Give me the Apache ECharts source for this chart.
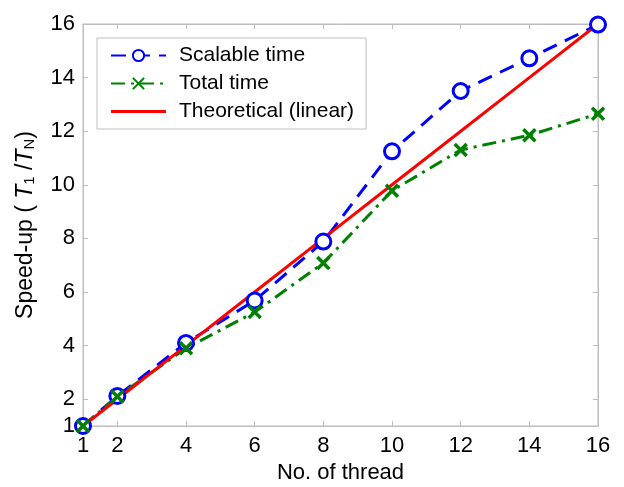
<!DOCTYPE html>
<html><head><meta charset="utf-8">
<script src="https://cdn.jsdelivr.net/npm/echarts@6/dist/echarts.min.js"></script>
<style>html,body{margin:0;padding:0;background:#fff}#c{width:624px;height:487px}</style>
</head><body><div id="c"></div>
<script>
var threads = [1, 2, 4, 6, 8, 10, 12, 14, 16];
var yTicks = [1, 2, 4, 6, 8, 10, 12, 14, 16];
var scalable = [1, 2.12, 4.1, 5.68, 7.88, 11.25, 13.5, 14.72, 15.98];
var total = [1, 2.1, 3.9, 5.25, 7.08, 9.78, 11.3, 11.85, 12.65];
var theoretical = [1, 2, 4, 6, 8, 10, 12, 14, 16];

function pairs(a){ return threads.map(function(t,i){return [t,a[i]];}); }
var xPath = 'path://M0,0L10,10M10,0L0,10';
var font = 'Liberation Sans, Arial, sans-serif';

var chart = echarts.init(document.getElementById('c'));
chart.setOption({
  animation:false,
  grid:{left:83,right:26,top:24,bottom:61,show:true,borderColor:'#bdbdbd',borderWidth:1,
        containLabel:false, outerBoundsMode:'none'},
  legend:{
    left:97, top:38, orient:'vertical', itemGap:7, itemWidth:55, itemHeight:14,
    padding:[7,12,7,13], borderColor:'#bdbdbd', borderWidth:1, backgroundColor:'#fff',
    textStyle:{fontFamily:font,fontSize:21,color:'#000',padding:[0,0,0,8]},
    data:[
      {name:'Scalable time'},
      {name:'Total time'},
      {name:'Theoretical (linear)', icon:'path://M0,0L60,0L60,3.2L0,3.2Z', itemStyle:{color:'#ff0000'}}
    ]
  },
  xAxis:[{
    type:'value', min:1, max:16, name:'No. of thread', nameLocation:'middle', nameGap:34,
    nameTextStyle:{fontFamily:font,fontSize:22,color:'#000'},
    axisLine:{show:true,lineStyle:{color:'#bdbdbd'}},
    axisTick:{show:true,inside:true,length:5,customValues:threads,lineStyle:{color:'#bdbdbd'}},
    axisLabel:{customValues:threads,fontFamily:font,fontSize:22,color:'#000',margin:9},
    splitLine:{show:false}
  },{
    type:'value', min:1, max:16, position:'top',
    axisLine:{show:true,lineStyle:{color:'#bdbdbd'}},
    axisTick:{show:true,inside:true,length:5,customValues:threads,lineStyle:{color:'#bdbdbd'}},
    axisLabel:{show:false}, splitLine:{show:false}
  }],
  yAxis:[{
    type:'value', min:1, max:16,
    name:'{n|Speed-up ( }{i|T}{s|1}{n| /}{i|T}{s|N}{n|)}', nameLocation:'middle', nameGap:46,
    nameTextStyle:{fontFamily:font,fontSize:23,color:'#000',rich:{
      n:{fontFamily:font,fontSize:23,color:'#000'},
      i:{fontFamily:font,fontSize:23,color:'#000',fontStyle:'italic'},
      s:{fontFamily:font,fontSize:15,color:'#000',verticalAlign:'bottom'}
    }},
    axisLine:{show:true,lineStyle:{color:'#bdbdbd'}},
    axisTick:{show:true,inside:true,length:5,customValues:yTicks,lineStyle:{color:'#bdbdbd'}},
    axisLabel:{customValues:yTicks,fontFamily:font,fontSize:22,color:'#000',margin:8},
    splitLine:{show:false}
  },{
    type:'value', min:1, max:16, position:'right',
    axisLine:{show:true,lineStyle:{color:'#bdbdbd'}},
    axisTick:{show:true,inside:true,length:5,customValues:yTicks,lineStyle:{color:'#bdbdbd'}},
    axisLabel:{show:false}, splitLine:{show:false}
  }],
  series:[{
    name:'Scalable time', type:'line', data:pairs(scalable),
    symbol:'circle', symbolSize:15, showAllSymbol:true,
    lineStyle:{color:'#0000ff',width:3,type:[15,9]},
    itemStyle:{color:'#fff',borderColor:'#0000ff',borderWidth:3}
  },{
    name:'Total time', type:'line', data:pairs(total),
    symbol:xPath, symbolSize:12,
    lineStyle:{color:'#008000',width:3,type:[14,6,3,6]},
    itemStyle:{color:'none',borderColor:'#008000',borderWidth:3.5}
  },{
    name:'Theoretical (linear)', type:'line', data:pairs(theoretical),
    symbol:'none',
    lineStyle:{color:'#ff0000',width:3},
    itemStyle:{color:'#ff0000'}
  }]
});
</script></body></html>
